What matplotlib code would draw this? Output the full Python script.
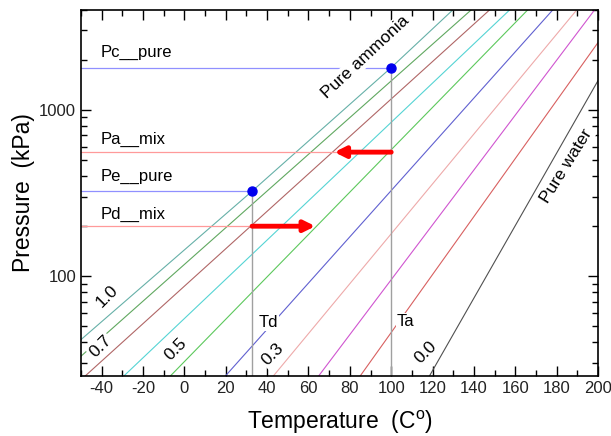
import matplotlib
matplotlib.use("Agg")
import matplotlib.pyplot as plt
import numpy as np

plt.rcParams['font.family'] = ['Liberation Sans', 'DejaVu Sans']
plt.rcParams['mathtext.fontset'] = 'custom'
plt.rcParams['mathtext.rm'] = 'Liberation Sans'
plt.rcParams['axes.unicode_minus'] = False

# iso-concentration lines (T in C, P in kPa)
line_T = [
    [-50, 32.7, 100, 130],
    [-50, 138.9],
    [-48, 147.8],
    [-29.3, 157.5],
    [-6.8, 166.2],
    [19.8, 178.3],
    [43, 189.9],
    [64.9, 198.5],
    [85, 200],
    [118.5, 200],
]
line_P = [
    [41.4, 323, 1790, 4000],
    [32.9, 4000],
    [25, 4000],
    [25, 4000],
    [25, 4000],
    [25, 4000],
    [25, 4000],
    [25, 4000],
    [25, 2530],
    [25, 1493],
]
line_colors = ['#66b0a8', '#60a860', '#b06666', '#55d4d4', '#5cc85c',
               '#6060d0', '#eeaaaa', '#d055d0', '#d86060', '#505050']

# labelled concentrations: text, T, P
conc_text = ['1.0', '0.7', '0.5', '0.3', '0.0']
conc_T = [-37.2, -40.6, -4.3, 42.5, 116.9]
conc_P = [75.9, 37.6, 36.1, 33.7, 34.6]

# state points
Td, Ta = 32.7, 100
Pc_pure, Pa_mix, Pe_pure, Pd_mix = 1790, 555, 323, 199
Pa_arrow_end = 72.5
Pd_arrow_end = 63.3

fig = plt.figure(figsize=(6.11, 4.36), dpi=100)
ax = fig.add_axes([0.1326, 0.1376, 0.8461, 0.8406])
ax.set_yscale('log')

for T, P, c in zip(line_T, line_P, line_colors):
    ax.plot(T, P, color=c, lw=0.8, zorder=2)

# horizontal pressure levels
ax.plot([-50, Ta], [Pc_pure, Pc_pure], color='#9090ff', lw=0.9, zorder=2)
ax.plot([-50, Td], [Pe_pure, Pe_pure], color='#9090ff', lw=0.9, zorder=2)
ax.plot([-50, Ta], [Pa_mix, Pa_mix], color='#ff9a9a', lw=0.9, zorder=2)
ax.plot([-50, Td], [Pd_mix, Pd_mix], color='#ff9a9a', lw=0.9, zorder=2)

# vertical temperature lines
ax.plot([Td, Td], [25, Pe_pure], color='#a0a0a0', lw=1.0, zorder=2)
ax.plot([Ta, Ta], [25, Pc_pure], color='#a0a0a0', lw=1.0, zorder=2)

ax.plot([Td, Ta], [Pe_pure, Pc_pure], 'o', color='#0000ee', ms=6.5, zorder=5)

# arrows
ax.annotate('', xy=(Pa_arrow_end, Pa_mix), xytext=(Ta, Pa_mix),
            arrowprops=dict(arrowstyle='-|>', color='red', lw=3.5,
                            mutation_scale=16, shrinkA=0, shrinkB=0), zorder=6)
ax.annotate('', xy=(Pd_arrow_end, Pd_mix), xytext=(Td, Pd_mix),
            arrowprops=dict(arrowstyle='-|>', color='red', lw=3.5,
                            mutation_scale=16, shrinkA=0, shrinkB=0), zorder=6)

box = dict(facecolor='white', edgecolor='none', pad=1)
fs = 12
for s, T, P in zip(conc_text, conc_T, conc_P):
    ax.text(T, P, s, rotation=45, fontsize=12.5, ha='center', va='center',
            bbox=box, zorder=4)

ax.text(-40.6, 2193, 'Pc__pure', fontsize=fs, ha='left', va='center')
ax.text(-40.6, 661, 'Pa__mix', fontsize=fs, ha='left', va='center')
ax.text(-40.6, 397, 'Pe__pure', fontsize=fs, ha='left', va='center')
ax.text(-40.6, 235, 'Pd__mix', fontsize=fs, ha='left', va='center')
ax.text(35.7, 52.5, 'Td', fontsize=fs, ha='left', va='center', bbox=box, zorder=4)
ax.text(102.8, 53, 'Ta', fontsize=fs, ha='left', va='center', bbox=box, zorder=4)
ax.text(87.4, 2076, 'Pure ammonia', rotation=43, fontsize=12.5,
        ha='center', va='center', bbox=box, zorder=4)
ax.text(184.5, 456, 'Pure water', rotation=58, fontsize=12.5,
        ha='center', va='center', bbox=box, zorder=4)

ax.set_xlim(-50, 200)
ax.set_ylim(25, 4000)
ax.set_xticks(np.arange(-40, 201, 20))
ax.set_xticks(np.arange(-50, 201, 10), minor=True)
ax.set_yticks([100, 1000])
ax.set_yticklabels(['100', '1000'])
ax.tick_params(which='both', direction='in', top=True, right=True,
               labelsize=12, labelcolor='#222222')
ax.tick_params(which='major', length=7, width=1)
ax.tick_params(which='minor', length=4, width=1)
for sp in ax.spines.values():
    sp.set_linewidth(1.2)

ax.set_xlabel(r'Temperature  (C$^\mathrm{o}$)', fontsize=16.5, labelpad=9)
ax.set_ylabel('Pressure  (kPa)', fontsize=16.5, labelpad=3)

fig.savefig('out.png', dpi=100)
